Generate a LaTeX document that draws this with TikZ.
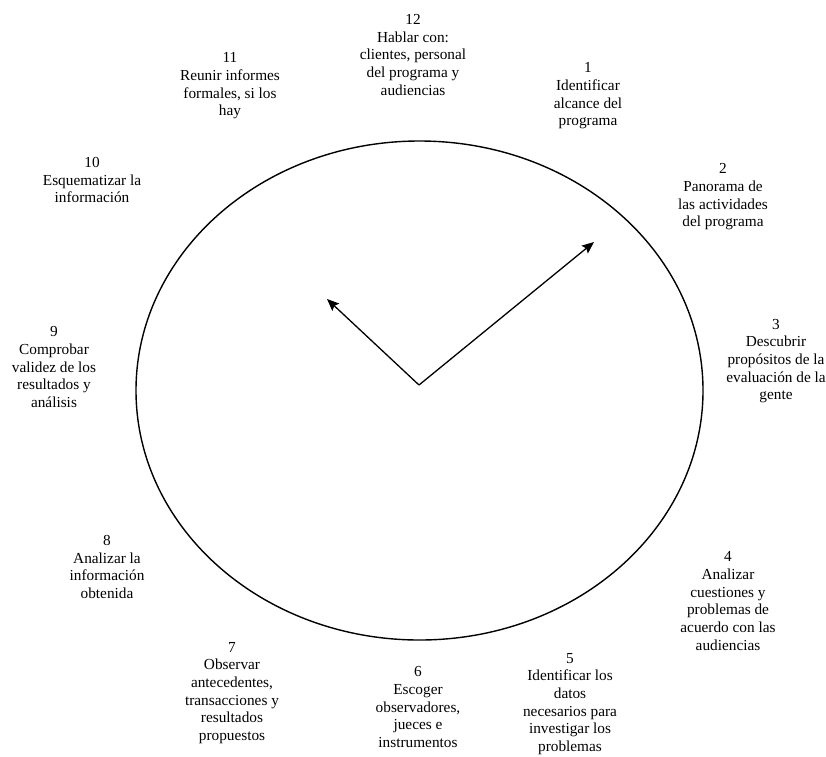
\documentclass[tikz,border=0pt]{standalone}
\usepackage{fontspec}
\setmainfont{Liberation Serif}
\usetikzlibrary{arrows.meta}
\begin{document}
\begin{tikzpicture}[x=1pt,y=-1pt,
  step label/.style={align=center,inner sep=0pt,
    font=\fontsize{15.3}{17.7}\selectfont},
  hand/.style={line width=1.3pt,-{Stealth[length=12pt,width=10pt,inset=2pt]}}]
  \useasboundingbox (0,0) rectangle (826,756);
  % clock face
  \draw[line width=1.4pt] (419.5,390.5) ellipse [x radius=283.5, y radius=249.5];
  % hands
  \coordinate (centre) at (419,385);
  \coordinate (long) at (594,242);
  \coordinate (short) at (327,299);
  \draw[hand] (centre) -- (long);
  \draw[hand] (centre) -- (short);
  % steps around the face
  \node[step label] (s12) at (413,55) {12\\Hablar con:\\clientes, personal\\del programa y\\audiencias};
  \node[step label] (s1) at (588,96) {1\\Identificar\\alcance del\\programa};
  \node[step label] (s2) at (723,197) {2\\Panorama de\\las actividades\\del programa};
  \node[step label] (s3) at (776,361) {3\\Descubrir\\propósitos de la\\evaluación de la\\gente};
  \node[step label] (s4) at (728,601) {4\\Analizar\\cuestiones y\\problemas de\\acuerdo con las\\audiencias};
  \node[step label] (s5) at (570,704) {5\\Identificar los\\datos\\necesarios para\\investigar los\\problemas};
  \node[step label] (s6) at (418,707) {6\\Escoger\\observadores,\\jueces e\\instrumentos};
  \node[step label] (s7) at (232,693) {7\\Observar\\antecedentes,\\transacciones y\\resultados\\propuestos};
  \node[step label] (s8) at (107,567) {8\\Analizar la\\información\\obtenida};
  \node[step label] (s9) at (54,367) {9\\Comprobar\\validez de los\\resultados y\\análisis};
  \node[step label] (s10) at (92,180) {10\\Esquematizar la\\información};
  \node[step label] (s11) at (230,86) {11\\Reunir informes\\formales, si los\\hay};
\end{tikzpicture}
\end{document}
